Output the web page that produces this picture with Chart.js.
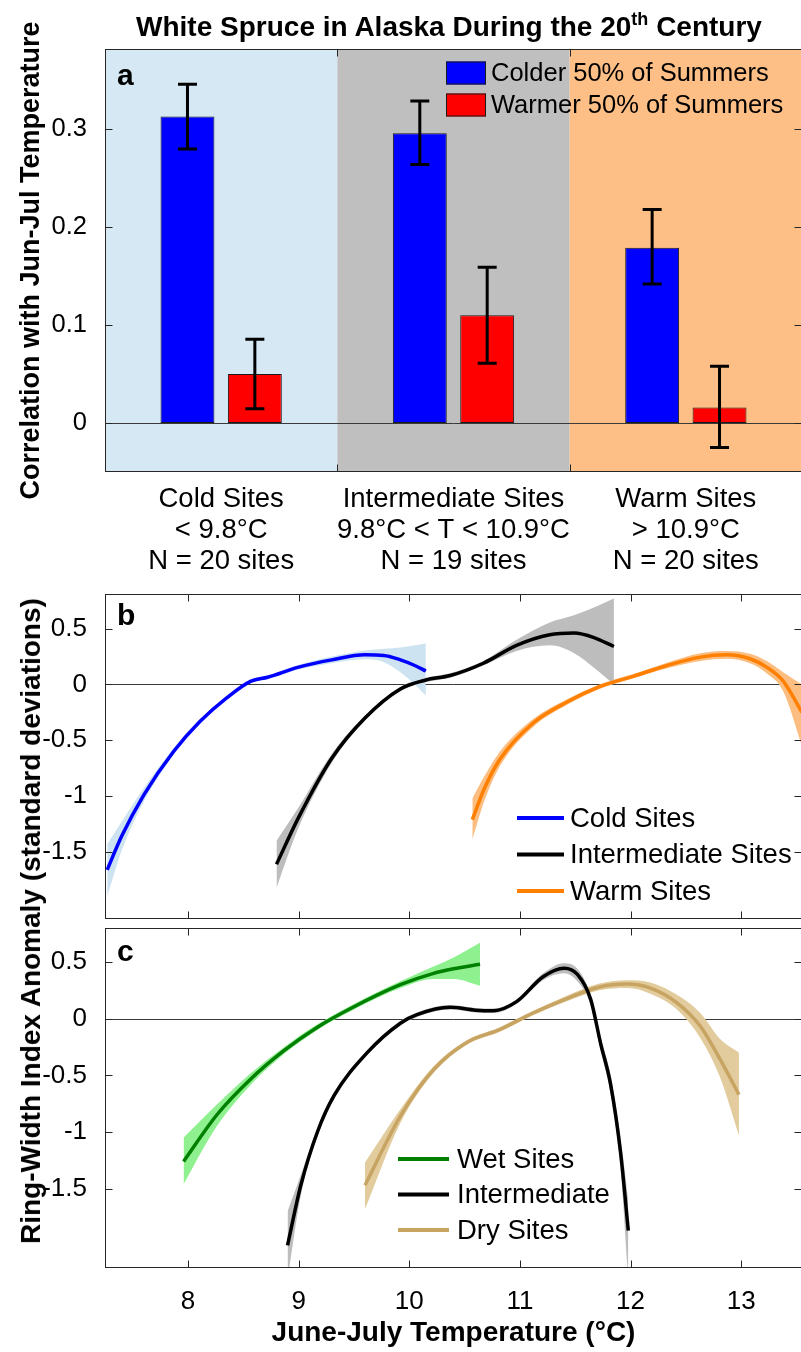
<!DOCTYPE html>
<html><head><meta charset="utf-8">
<script src="https://cdn.jsdelivr.net/npm/chart.js@4"></script>
<style>
html,body{margin:0;padding:0;background:#fff;}
body{width:801px;height:1352px;overflow:hidden;position:relative;font-family:"Liberation Sans",Arial,sans-serif;color:#000;}
canvas{position:absolute;left:0;}
#title{position:absolute;left:97px;width:704px;top:13px;text-align:center;font-weight:bold;font-size:28px;line-height:28px;white-space:nowrap;z-index:2;}
#title sup{font-size:18px;line-height:0;vertical-align:baseline;position:relative;top:-11px;}
#ytitle2{position:absolute;left:31px;top:921px;transform:translate(-50%,-50%) rotate(-90deg);font-weight:bold;font-size:28px;line-height:28px;white-space:nowrap;z-index:2;}
</style></head>
<body>
<div id="title">White Spruce in Alaska During the 20<sup>th</sup> Century</div>
<canvas id="ca" width="803" height="580" style="top:0px"></canvas>
<canvas id="cb" width="803" height="346" style="top:580px"></canvas>
<canvas id="cc" width="803" height="426" style="top:926px"></canvas>
<div id="ytitle2">Ring-Width Index Anomaly (standard deviations)</div>
<script>
// ---------- Panel a data ----------
const catNames  = ['Cold Sites', 'Intermediate Sites', 'Warm Sites'];
const catRanges = ['< 9.8°C', '9.8°C < T < 10.9°C', '> 10.9°C'];
const catCounts = ['N = 20 sites', 'N = 19 sites', 'N = 20 sites'];
const colderVals = [0.313, 0.296, 0.179];
const colderLow  = [0.280, 0.264, 0.142];
const colderHigh = [0.346, 0.329, 0.218];
const warmerVals = [0.050, 0.110, 0.016];
const warmerLow  = [0.0145, 0.061, -0.025];
const warmerHigh = [0.0855, 0.159, 0.058];
const aTicks = [0, 0.1, 0.2, 0.3];
const bandColors = ['#d5e8f3', '#bfbfbf', '#fdbf85'];

// ---------- Panel b data ----------
const coldX     = [7.27, 7.4, 7.6, 7.87, 8.11, 8.35, 8.57, 8.72, 9.0, 9.3, 9.6, 9.77, 9.92, 10.05, 10.15];
const coldY     = [-1.66, -1.36, -0.99, -0.60, -0.33, -0.12, 0.03, 0.065, 0.155, 0.22, 0.265, 0.26, 0.22, 0.17, 0.12];
const coldUpper = [-1.43, -1.23, -0.93, -0.57, -0.31, -0.105, 0.045, 0.08, 0.175, 0.25, 0.305, 0.32, 0.33, 0.35, 0.37];
const coldLower = [-1.90, -1.49, -1.05, -0.63, -0.35, -0.135, 0.015, 0.05, 0.135, 0.19, 0.225, 0.20, 0.11, 0.0, -0.10];

const intBX     = [8.80, 9.0, 9.3, 9.6, 9.92, 10.15, 10.37, 10.67, 10.97, 11.27, 11.49, 11.67, 11.85];
const intBY     = [-1.61, -1.19, -0.66, -0.30, -0.04, 0.04, 0.08, 0.19, 0.35, 0.445, 0.46, 0.42, 0.34];
const intBUpper = [-1.40, -1.10, -0.62, -0.28, -0.02, 0.06, 0.10, 0.21, 0.40, 0.555, 0.62, 0.69, 0.77];
const intBLower = [-1.82, -1.28, -0.70, -0.32, -0.06, 0.02, 0.06, 0.17, 0.30, 0.35, 0.28, 0.15, 0.0];

const warmX     = [10.57, 10.68, 10.82, 11.12, 11.43, 11.72, 12.03, 12.33, 12.63, 12.87, 13.08, 13.23, 13.38, 13.55];
const warmY     = [-1.21, -0.93, -0.67, -0.345, -0.155, -0.02, 0.075, 0.17, 0.245, 0.265, 0.23, 0.155, 0.03, -0.25];
const warmUpper = [-1.02, -0.82, -0.60, -0.31, -0.13, 0.0, 0.095, 0.195, 0.28, 0.30, 0.275, 0.21, 0.11, 0.0];
const warmLower = [-1.39, -1.04, -0.73, -0.38, -0.18, -0.04, 0.055, 0.145, 0.21, 0.23, 0.19, 0.10, -0.06, -0.55];

// ---------- Panel c data ----------
const wetX     = [7.96, 8.26, 8.57, 8.87, 9.17, 9.47, 9.92, 10.22, 10.4, 10.64];
const wetY     = [-1.26, -0.85, -0.53, -0.28, -0.075, 0.09, 0.30, 0.40, 0.44, 0.48];
const wetUpper = [-1.05, -0.76, -0.48, -0.25, -0.05, 0.115, 0.33, 0.46, 0.54, 0.67];
const wetLower = [-1.46, -0.95, -0.58, -0.31, -0.10, 0.065, 0.27, 0.35, 0.35, 0.29];

const intCX     = [8.90, 9.02, 9.17, 9.32, 9.62, 9.92, 10.07, 10.37, 10.6, 10.76, 10.97, 11.21, 11.40, 11.52, 11.64, 11.73, 11.82, 11.91, 11.98];
const intCY     = [-2.0, -1.47, -1.0, -0.68, -0.30, -0.04, 0.035, 0.10, 0.075, 0.07, 0.15, 0.37, 0.445, 0.39, 0.17, -0.22, -0.58, -1.18, -1.87];
const intCUpper = [-1.70, -1.38, -0.96, -0.65, -0.28, -0.02, 0.055, 0.12, 0.095, 0.09, 0.17, 0.40, 0.49, 0.44, 0.21, -0.16, -0.50, -1.05, -1.6];
const intCLower = [-2.3, -1.56, -1.04, -0.71, -0.32, -0.06, 0.015, 0.08, 0.055, 0.05, 0.13, 0.34, 0.40, 0.33, 0.12, -0.28, -0.66, -1.32, -2.3];

const dryX     = [9.60, 9.92, 10.22, 10.52, 10.82, 11.12, 11.43, 11.72, 11.97, 12.18, 12.42, 12.63, 12.81, 12.98];
const dryY     = [-1.47, -0.86, -0.45, -0.21, -0.095, 0.05, 0.18, 0.28, 0.305, 0.27, 0.14, -0.065, -0.36, -0.67];
const dryUpper = [-1.27, -0.80, -0.42, -0.19, -0.075, 0.07, 0.205, 0.31, 0.34, 0.32, 0.21, 0.05, -0.18, -0.30];
const dryLower = [-1.68, -0.92, -0.48, -0.23, -0.115, 0.03, 0.155, 0.25, 0.27, 0.22, 0.08, -0.17, -0.52, -1.03];

const xTicks = [8, 9, 10, 11, 12, 13];
const yTicksBC = [-1.5, -1, -0.5, 0, 0.5];

Chart.defaults.font.family = '"Liberation Sans", Arial, sans-serif';
Chart.defaults.color = '#000';
Chart.defaults.animation = false;

const FONT = '"Liberation Sans", Arial, sans-serif';
const FRAME = '#262626';

function noPad(s) { s.paddingTop = 0; s.paddingBottom = 0; s.paddingLeft = 0; s.paddingRight = 0; }

const framePlugin = {
  id: 'frame',
  beforeDatasetsDraw(chart, args, o) {
    const {ctx, chartArea: a, scales} = chart;
    ctx.save();
    if (o.bands) {
      const xs = scales.x;
      o.bands.forEach((c, i) => {
        const l = xs.getPixelForValue(i - 0.5), r = xs.getPixelForValue(i + 0.5);
        ctx.fillStyle = c;
        ctx.fillRect(l, a.top, r - l, a.bottom - a.top);
      });
    }
    const y0 = Math.round(scales.y.getPixelForValue(0)) + 0.5;
    ctx.strokeStyle = '#3a3a3a';
    ctx.lineWidth = 1;
    ctx.beginPath(); ctx.moveTo(a.left, y0); ctx.lineTo(a.right, y0); ctx.stroke();
    ctx.restore();
  },
  afterDatasetsDraw(chart, args, o) {
    const {ctx, chartArea: a, scales} = chart;
    ctx.save();
    // error bars
    chart.data.datasets.forEach((ds, di) => {
      if (!ds.errLow) return;
      const meta = chart.getDatasetMeta(di);
      meta.data.forEach((el, j) => {
        const x = el.x;
        const yl = scales.y.getPixelForValue(ds.errLow[j]);
        const yh = scales.y.getPixelForValue(ds.errHigh[j]);
        ctx.strokeStyle = '#000'; ctx.lineWidth = 3; ctx.lineCap = 'butt';
        ctx.beginPath();
        ctx.moveTo(x, yl); ctx.lineTo(x, yh);
        ctx.moveTo(x - 9.5, yl); ctx.lineTo(x + 9.5, yl);
        ctx.moveTo(x - 9.5, yh); ctx.lineTo(x + 9.5, yh);
        ctx.stroke();
      });
    });
    // frame
    ctx.strokeStyle = FRAME; ctx.lineWidth = 1;
    const L = Math.round(a.left) + 0.5, R = Math.round(a.right) - 0.5, T = Math.round(a.top) + 0.5, B = Math.round(a.bottom) - 0.5;
    ctx.strokeRect(L, T, R - L, B - T);
    const tl = 7;
    ctx.beginPath();
    (o.yTicks || []).forEach(v => {
      const y = Math.round(scales.y.getPixelForValue(v)) + 0.5;
      ctx.moveTo(L, y); ctx.lineTo(L + tl, y);
      ctx.moveTo(R, y); ctx.lineTo(R - tl, y);
    });
    let xs = [];
    if (o.xTicks) xs = o.xTicks.map(v => scales.x.getPixelForValue(v));
    if (o.catBounds) for (let i = 1; i < scales.x.ticks.length; i++) xs.push(scales.x.getPixelForValue(i - 0.5));
    xs.forEach(px => {
      const x = Math.round(px) + 0.5;
      ctx.moveTo(x, T); ctx.lineTo(x, T + tl);
      ctx.moveTo(x, B); ctx.lineTo(x, B - tl);
    });
    ctx.stroke();
    // legend
    if (o.legend) {
      const lg = o.legend;
      const items = chart.data.datasets.filter(d => !d.isBand);
      ctx.font = lg.size + 'px ' + FONT;
      ctx.textBaseline = 'middle'; ctx.textAlign = 'left';
      items.forEach((d, i) => {
        const y = a.top + lg.y + i * lg.dy;
        if (lg.box) {
          ctx.fillStyle = d.backgroundColor;
          ctx.fillRect(a.left + lg.x, y - 11.5, lg.len, 23);
          ctx.strokeStyle = '#1a1a1a'; ctx.lineWidth = 1;
          ctx.strokeRect(a.left + lg.x + 0.5, y - 11, lg.len - 1, 22);
        } else {
          ctx.strokeStyle = d.borderColor; ctx.lineWidth = 4;
          ctx.beginPath(); ctx.moveTo(a.left + lg.x, y); ctx.lineTo(a.left + lg.x + lg.len, y); ctx.stroke();
        }
        ctx.fillStyle = '#000';
        ctx.fillText(d.label, a.left + lg.x + lg.len + lg.gap, y + 1);
      });
    }
    // panel letter
    if (o.letter) {
      ctx.fillStyle = '#000';
      ctx.font = 'bold 30px ' + FONT;
      ctx.textBaseline = 'alphabetic'; ctx.textAlign = 'left';
      ctx.fillText(o.letter.text, a.left + 12, a.top + o.letter.dy);
    }
    ctx.restore();
  }
};

// ---------- Panel a ----------
new Chart(document.getElementById('ca'), {
  type: 'bar',
  data: {
    labels: catNames.map((n, i) => [n, catRanges[i], catCounts[i]]),
    datasets: [
      {label: 'Colder 50% of Summers', data: colderVals, errLow: colderLow, errHigh: colderHigh,
       backgroundColor: '#0000ff', borderColor: '#1a1a1a', borderWidth: 1, borderSkipped: false,
       categoryPercentage: 0.58, barPercentage: 0.8},
      {label: 'Warmer 50% of Summers', data: warmerVals, errLow: warmerLow, errHigh: warmerHigh,
       backgroundColor: '#ff0000', borderColor: '#1a1a1a', borderWidth: 1, borderSkipped: false,
       categoryPercentage: 0.58, barPercentage: 0.8}
    ]
  },
  options: {
    responsive: false, devicePixelRatio: 1, animation: false,
    layout: {padding: {top: 49, right: 1, left: 0, bottom: 0}},
    plugins: {
      legend: {display: false}, tooltip: {enabled: false},
      frame: {bands: bandColors, yTicks: aTicks, catBounds: true,
              legend: {box: true, x: 341, y: 24, dy: 32, len: 40, gap: 5, size: 25.5},
              letter: {text: 'a', dy: 36}}
    },
    scales: {
      x: {grid: {display: false}, border: {display: false},
          ticks: {font: {size: 27.5, lineHeight: 1.12}, padding: 4, maxRotation: 0, autoSkip: false, color: '#000'},
          afterFit(s) { s.height = 108; noPad(s); }},
      y: {min: -0.05, max: 0.382, grid: {display: false}, border: {display: false},
          afterBuildTicks(s) { s.ticks = aTicks.map(v => ({value: v})); },
          ticks: {font: {size: 25.5}, padding: 10, color: '#000', callback: v => String(v)},
          title: {display: true, text: 'Correlation with Jun-Jul Temperature', color: '#000',
                  font: {size: 27, weight: 'bold'}, padding: {top: 15, bottom: 0}},
          afterFit(s) { s.width = 105; noPad(s); }}
    }
  },
  plugins: [framePlugin]
});

// ---------- helpers for curve panels ----------
function pts(xs, ys) { return xs.map((x, i) => ({x: x, y: ys[i]})); }
function lineDs(label, xs, ys, color) {
  return {label: label, data: pts(xs, ys), borderColor: color, backgroundColor: color, borderWidth: 3.5,
          pointRadius: 0, fill: false, cubicInterpolationMode: 'monotone', order: 0};
}
function upperDs(xs, ys) {
  return {isBand: true, data: pts(xs, ys), borderWidth: 0, borderColor: 'transparent', pointRadius: 0,
          fill: false, cubicInterpolationMode: 'monotone', order: 1};
}
function lowerDs(xs, ys, color) {
  return {isBand: true, data: pts(xs, ys), borderWidth: 0, borderColor: 'transparent', backgroundColor: color,
          pointRadius: 0, fill: '-1', cubicInterpolationMode: 'monotone', order: 1};
}
function curveOptions(o) {
  return {
    responsive: false, devicePixelRatio: 1, animation: false,
    layout: {padding: o.padding, autoPadding: false},
    plugins: {legend: {display: false}, tooltip: {enabled: false},
              frame: {xTicks: xTicks, yTicks: yTicksBC, legend: o.legend, letter: o.letter}},
    scales: {
      x: Object.assign({type: 'linear', min: 7.25, max: 13.55, grid: {display: false}, border: {display: false}}, o.x),
      y: {min: o.ymin, max: o.ymax, grid: {display: false}, border: {display: false},
          afterBuildTicks(s) { s.ticks = yTicksBC.map(v => ({value: v})); },
          ticks: {font: {size: 26}, padding: 10, color: '#000', callback: v => String(v)},
          afterFit(s) { s.width = 105; noPad(s); }}
    }
  };
}

// ---------- Panel b ----------
new Chart(document.getElementById('cb'), {
  type: 'line',
  data: {datasets: [
    lineDs('Cold Sites', coldX, coldY, '#0000ff'),
    lineDs('Intermediate Sites', intBX, intBY, '#000000'),
    lineDs('Warm Sites', warmX, warmY, '#ff8000'),
    upperDs(coldX, coldUpper), lowerDs(coldX, coldLower, '#cde3f1'),
    upperDs(intBX, intBUpper), lowerDs(intBX, intBLower, '#bdbdbd'),
    upperDs(warmX, warmUpper), lowerDs(warmX, warmLower, '#fbbd80')
  ]},
  options: curveOptions({
    padding: {top: 14, right: 1, left: 0, bottom: 7}, ymin: -2.1, ymax: 0.81,
    x: {display: false, afterFit(s) { noPad(s); }},
    legend: {box: false, x: 412, y: 224, dy: 36.5, len: 47, gap: 6, size: 27.5},
    letter: {text: 'b', dy: 31}
  }),
  plugins: [framePlugin]
});

// ---------- Panel c ----------
new Chart(document.getElementById('cc'), {
  type: 'line',
  data: {datasets: [
    lineDs('Wet Sites', wetX, wetY, '#008000'),
    lineDs('Intermediate', intCX, intCY, '#000000'),
    lineDs('Dry Sites', dryX, dryY, '#c8a462'),
    upperDs(wetX, wetUpper), lowerDs(wetX, wetLower, '#8ef08e'),
    upperDs(intCX, intCUpper), lowerDs(intCX, intCLower, '#bdbdbd'),
    upperDs(dryX, dryUpper), lowerDs(dryX, dryLower, '#e2cb9c')
  ]},
  options: curveOptions({
    padding: {top: 2, right: 1, left: 0, bottom: 0}, ymin: -2.2, ymax: 0.8,
    x: {afterBuildTicks(s) { s.ticks = xTicks.map(v => ({value: v})); },
        ticks: {font: {size: 26}, padding: 10, color: '#000', callback: v => String(v)},
        title: {display: true, text: 'June-July Temperature (°C)', color: '#000',
                font: {size: 28, weight: 'bold'}, padding: {top: 0, bottom: 2}},
        afterFit(s) { s.height = 84; noPad(s); }},
    legend: {box: false, x: 293, y: 231, dy: 35.5, len: 51, gap: 8, size: 27.5},
    letter: {text: 'c', dy: 33}
  }),
  plugins: [framePlugin]
});
</script>
</body></html>
